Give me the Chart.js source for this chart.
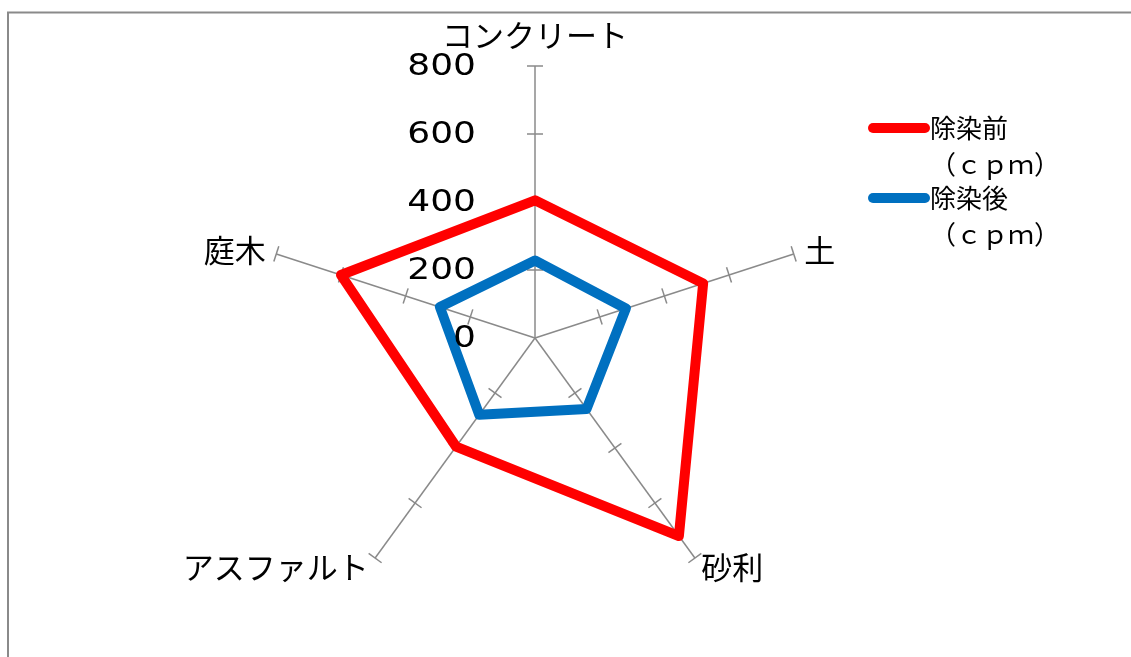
<!DOCTYPE html>
<html>
<head>
<meta charset="utf-8">
<script src="https://cdn.jsdelivr.net/npm/chart.js@4"></script>
<style>
  html, body { margin: 0; padding: 0; background: #fff; }
  canvas { display: block; }
</style>
</head>
<body>
<canvas id="radarChart" width="1131" height="657"></canvas>
<script>
// 除染前後の線量（cpm）
const categories = ['コンクリート', '土', '砂利', 'アスファルト', '庭木'];
const beforeValues = [405, 520, 720, 395, 600];
const afterValues = [228, 281, 258, 279, 294];
const seriesLabels = [['除染前', '（ｃｐｍ）'], ['除染後', '（ｃｐｍ）']];
const axisMax = 800;
const axisStep = 200;

const JP_FONT = '"Noto Sans CJK JP", "Noto Sans", sans-serif';
const GRID = '#8a8a8a';

// 枠線・目盛り・ラベル・凡例
const radarDecor = {
    id: 'radarDecor',
    beforeDraw(chart) {
        const ctx = chart.ctx;
        ctx.save();
        ctx.strokeStyle = GRID;
        ctx.lineWidth = 2;
        ctx.strokeRect(8, 12.5, chart.width + 20, chart.height + 20);
        ctx.restore();
    },
    beforeDatasetsDraw(chart) {
        const r = chart.scales.r;
        const ctx = chart.ctx;
        ctx.save();
        ctx.strokeStyle = GRID;
        ctx.lineWidth = 1.5;
        chart.data.labels.forEach((label, i) => {
            r.ticks.forEach(t => {
                if (t.value === 0) return;
                const p = r.getPointPositionForValue(i, t.value);
                const nx = Math.cos(p.angle + Math.PI / 2);
                const ny = Math.sin(p.angle + Math.PI / 2);
                ctx.beginPath();
                ctx.moveTo(p.x - nx * 8, p.y - ny * 8);
                ctx.lineTo(p.x + nx * 8, p.y + ny * 8);
                ctx.stroke();
            });
        });

        // 項目名
        ctx.font = '31px ' + JP_FONT;
        ctx.fillStyle = '#000';
        ctx.textBaseline = 'middle';
        chart.data.labels.forEach((label, i) => {
            const cos = Math.cos(r.getIndexAngle(i) - Math.PI / 2);
            let align = 'center', pad = 31;
            if (cos > 0.1) { align = 'left'; pad = 11; }
            else if (cos < -0.1) { align = 'right'; pad = 11; }
            const p = r.getPointPosition(i, r.drawingArea + pad);
            ctx.textAlign = align;
            ctx.fillText(label, p.x, p.y);
        });
        ctx.restore();
    },
    afterDatasetsDraw(chart) {
        const r = chart.scales.r;
        const ctx = chart.ctx;
        ctx.save();
        ctx.fillStyle = '#000';
        ctx.font = '30px "DejaVu Sans", sans-serif';
        ctx.textAlign = 'right';
        ctx.textBaseline = 'middle';
        r.ticks.forEach(t => {
            const y = r.yCenter - r.getDistanceFromCenterForValue(t.value);
            ctx.save();
            ctx.translate(r.xCenter - 59, y);
            ctx.scale(1.2, 1);
            ctx.fillText(t.label, 0, 1);
            ctx.restore();
        });

        // 凡例
        ctx.font = '26px ' + JP_FONT;
        ctx.textAlign = 'left';
        chart.data.datasets.forEach((ds, i) => {
            const y0 = 128 + i * 70;
            ctx.strokeStyle = ds.borderColor;
            ctx.lineWidth = 10;
            ctx.lineCap = 'round';
            ctx.beginPath();
            ctx.moveTo(873, y0);
            ctx.lineTo(925, y0);
            ctx.stroke();
            ds.label.forEach((line, j) => ctx.fillText(line, 930, y0 + j * 36));
        });
        ctx.restore();
    }
};

new Chart(document.getElementById('radarChart'), {
    type: 'radar',
    data: {
        labels: categories,
        datasets: [
            { label: seriesLabels[0], data: beforeValues, borderColor: '#ff0000', borderWidth: 10, borderJoinStyle: 'round', pointRadius: 0, fill: false, tension: 0 },
            { label: seriesLabels[1], data: afterValues, borderColor: '#0070c0', borderWidth: 10, borderJoinStyle: 'round', pointRadius: 0, fill: false, tension: 0 }
        ]
    },
    options: {
        responsive: false,
        animation: false,
        layout: { padding: { left: 263, right: 324, top: 66, bottom: 47 } },
        plugins: { legend: { display: false }, tooltip: { enabled: false } },
        scales: {
            r: {
                min: 0,
                max: axisMax,
                ticks: { stepSize: axisStep, display: false },
                grid: { display: false },
                angleLines: { display: true, color: GRID, lineWidth: 1.5 },
                pointLabels: { display: false }
            }
        }
    },
    plugins: [radarDecor]
});
</script>
</body>
</html>
